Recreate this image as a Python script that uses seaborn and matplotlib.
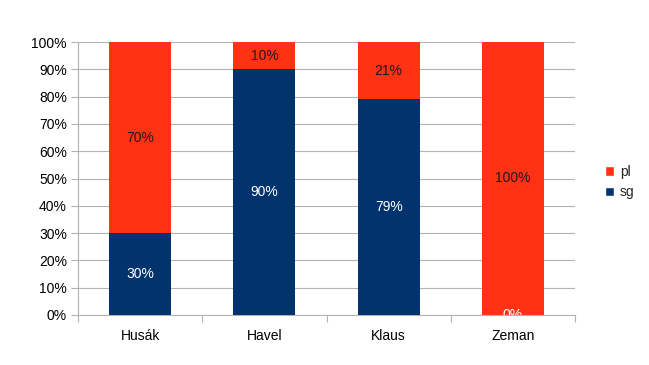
import matplotlib
matplotlib.use("Agg")
import matplotlib.pyplot as plt
import seaborn as sns
import pandas as pd
from matplotlib.patches import Patch

categories = ["Husák", "Havel", "Klaus", "Zeman"]
sg = [30, 90, 79, 0]
pl = [70, 10, 21, 100]
yticks = [0, 10, 20, 30, 40, 50, 60, 70, 80, 90, 100]

RED = "#ff3214"
BLUE = "#02336f"
FS = 10

sns.set_theme(style="white")
plt.rcParams["font.family"] = ["Liberation Sans", "DejaVu Sans"]

fig = plt.figure(figsize=(6.49, 3.65), dpi=100)
ax = fig.add_axes([78/649, 1 - 315/365, (575-78)/649, (315-42)/365])

df = pd.DataFrame({"cat": categories, "sg": sg, "pl": pl})
df["total"] = df["sg"] + df["pl"]

sns.barplot(data=df, x="cat", y="total", color=RED, width=0.5, ax=ax,
            saturation=1, edgecolor="none", zorder=2)
sns.barplot(data=df, x="cat", y="sg", color=BLUE, width=0.5, ax=ax,
            saturation=1, edgecolor="none", zorder=3)

for i in range(len(categories)):
    ax.text(i, sg[i] + pl[i] / 2, f"{pl[i]}%", ha="center", va="center",
            fontsize=FS, color="#1a1a1a", zorder=4)
    ax.text(i, sg[i] / 2, f"{sg[i]}%", ha="center", va="center",
            fontsize=FS, color="white", zorder=4, clip_on=True)

ax.set_xlim(-0.5, len(categories) - 0.5)
ax.set_ylim(0, 100)
ax.set_yticks(yticks)
ax.set_yticklabels([f"{v}%" for v in yticks], fontsize=FS, color="#000000")
ax.set_xticks(range(len(categories)))
ax.set_xticklabels(categories, fontsize=FS, color="#000000")
ax.set_xlabel("")
ax.set_ylabel("")
ax.yaxis.grid(True, color="#b3b3b3", linewidth=0.8, zorder=0)
ax.set_axisbelow(True)

for s in ["top", "right"]:
    ax.spines[s].set_visible(False)
for s in ["left", "bottom"]:
    ax.spines[s].set_color("#b3b3b3")
    ax.spines[s].set_linewidth(0.8)

ax.tick_params(axis="y", which="major", length=5, color="#b3b3b3", width=0.8, left=True, pad=3)
ax.tick_params(axis="x", which="major", length=0, pad=10)
ax.set_xticks([i - 0.5 for i in range(len(categories) + 1)], minor=True)
ax.tick_params(axis="x", which="minor", length=5, color="#b3b3b3", width=0.8, bottom=True)

handles = [Patch(facecolor=RED, label="pl"), Patch(facecolor=BLUE, label="sg")]
fig.legend(handles=handles, loc="center left", bbox_to_anchor=(599/649, 1 - 182/365),
           frameon=False, fontsize=FS, handlelength=0.7, handleheight=0.7,
           handletextpad=0.4, labelspacing=0.5, borderaxespad=0)

fig.savefig("out.png", dpi=100)
